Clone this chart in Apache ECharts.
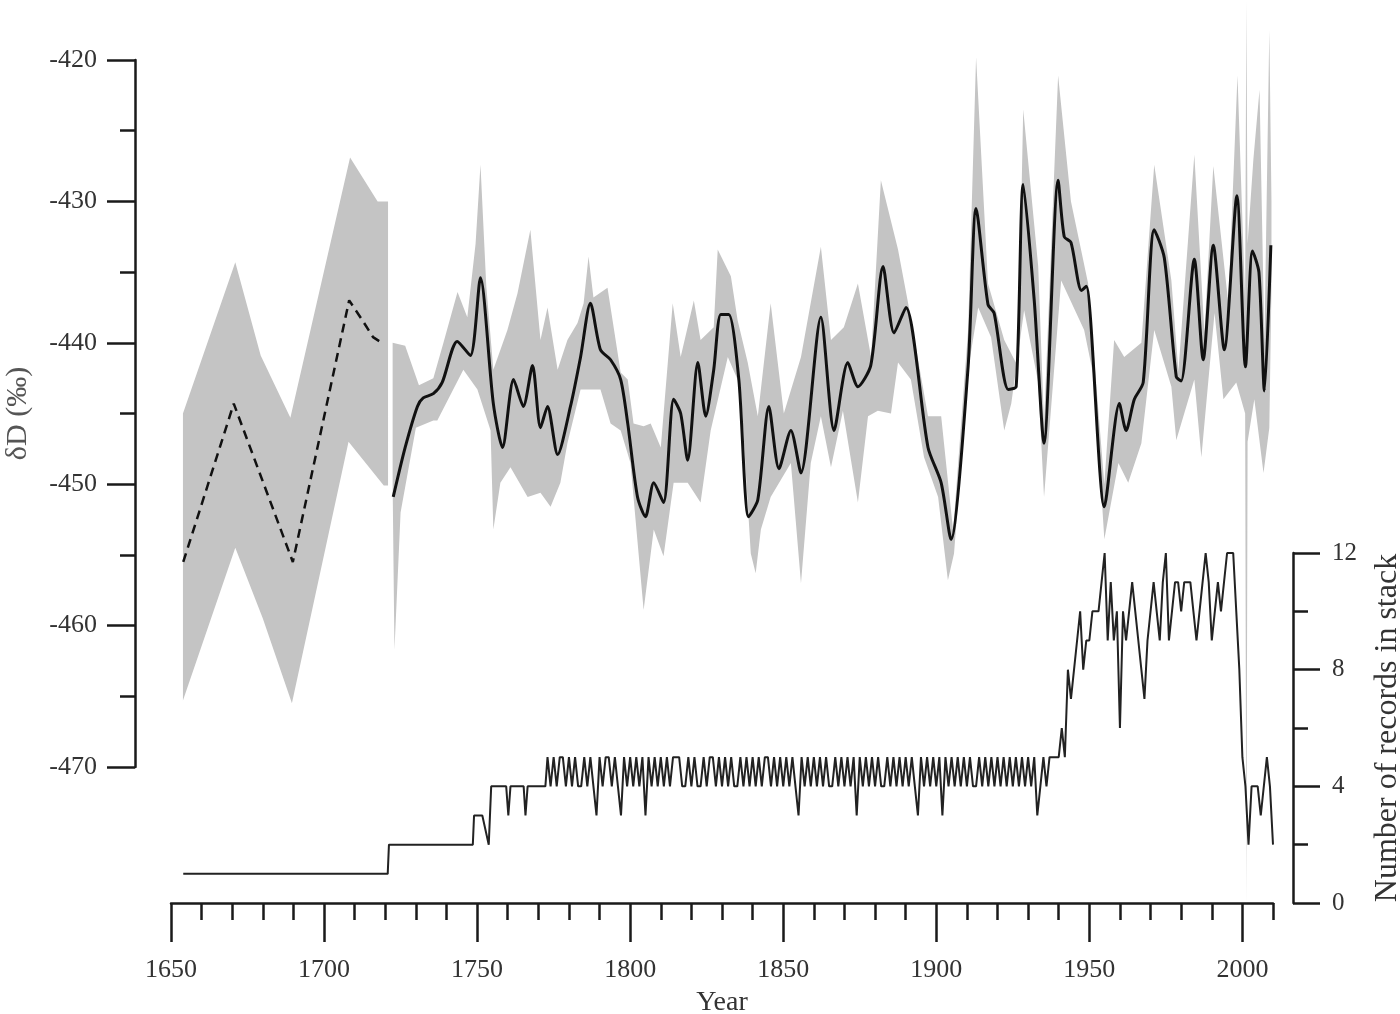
<!DOCTYPE html>
<html>
<head>
<meta charset="utf-8">
<script src="https://cdn.jsdelivr.net/npm/echarts@6/dist/echarts.min.js"></script>
<style>
html, body { margin: 0; padding: 0; background: #fff; }
#container { width: 1400px; height: 1014px; }
</style>
</head>
<body>
<div id="container"></div>
<script>
var dom = document.getElementById('container');
var myChart = echarts.init(dom, null, { renderer: 'canvas' });

// early reconstruction (dashed) and its band
var dashedLine = [[1654, -455.5], [1670.5, -444.3], [1689.8, -455.5], [1708.2, -437.0], [1712.5, -438.4], [1716, -439.6], [1719.6, -440.1]];
var dashedUpper = [[1653.9, -445.0], [1671, -434.3], [1679.3, -440.9], [1689, -445.3], [1708.5, -426.9], [1717.5, -430.0], [1720.9, -430.0]];
var dashedLower = [[1653.9, -465.3], [1671, -454.5], [1680, -459.5], [1689.5, -465.5], [1708, -447.0], [1719.5, -450.1], [1720.9, -450.1]];

// stacked record (solid) and its band
var mainLine = [[1722.6, -450.9], [1726.5, -447.4], [1730.5, -444.5], [1732.4, -443.9], [1735.7, -443.6], [1738.6, -442.8],
  [1743.5, -439.9], [1747.8, -440.9], [1751.1, -435.4], [1755.3, -444.3], [1758.3, -447.4], [1761.9, -442.6], [1765.1, -444.5],
  [1768.1, -441.6], [1770.7, -446.0], [1773, -444.5], [1776.3, -447.9], [1780.5, -444.5], [1783.8, -441.0], [1787, -437.2],
  [1790.3, -440.5], [1793.6, -441.2], [1796.9, -442.6], [1799.2, -445.7], [1802.4, -450.9], [1805, -452.3], [1807.7, -449.9],
  [1810.9, -451.3], [1814.2, -444.0], [1816.5, -445.0], [1818.8, -448.3], [1822.1, -441.4], [1824.7, -445.2], [1827.3, -441.9],
  [1829.6, -438.0], [1832.2, -438.0], [1835.5, -442.6], [1838.7, -452.3], [1841.7, -451.1], [1845.3, -444.5], [1848.6, -448.9],
  [1852.5, -446.2], [1855.8, -449.2], [1862.3, -438.2], [1866.6, -446.2], [1871.1, -441.4], [1874.4, -443.1], [1878.6, -441.6],
  [1882.6, -434.6], [1886.2, -439.3], [1890.1, -437.5], [1897.3, -447.4], [1901.6, -449.9], [1904.8, -453.9], [1910.4, -441.7],
  [1913, -430.5], [1916.9, -437.3], [1918.9, -437.9], [1923.5, -443.3], [1926.1, -443.1], [1928.4, -428.8], [1932, -437.0],
  [1935.2, -447.1], [1939.8, -428.5], [1941.8, -432.5], [1944, -432.9], [1947.4, -436.3], [1949, -436.0], [1954.9, -451.6],
  [1959.8, -444.3], [1962, -446.2], [1964.7, -444.0], [1967.6, -442.8], [1971.2, -432.0], [1974.5, -434.0], [1978.4, -442.4],
  [1980, -442.7], [1984.3, -434.1], [1987.2, -441.2], [1990.5, -433.1], [1994.1, -440.5], [1998.2, -429.6], [2001, -441.7],
  [2003.3, -433.5], [2005.4, -435.0], [2007.2, -443.4], [2009.3, -433.1]];

var mainUpper = [[1722.4, -440.0], [1726.5, -440.2], [1731, -443.0], [1735.7, -442.5], [1739, -440.0], [1743.6, -436.4],
  [1746.8, -438.2], [1749.5, -433.0], [1751.1, -427.4], [1753, -436.0], [1755.3, -441.9], [1759.9, -439.1], [1763.2, -436.5],
  [1767.4, -432.0], [1770.7, -439.8], [1773, -437.5], [1776.3, -441.9], [1779.5, -439.8], [1782.8, -438.6], [1784.8, -437.2],
  [1786.4, -433.9], [1788, -436.8], [1792.6, -436.1], [1796.9, -442.1], [1799.2, -442.6], [1801.1, -445.7], [1804.4, -445.9],
  [1806.7, -445.7], [1810, -447.4], [1813.9, -437.2], [1816.5, -441.0], [1820.8, -437.0], [1823, -439.8], [1827.3, -438.9],
  [1828.6, -433.4], [1832.9, -435.3], [1835.1, -438.4], [1838.4, -441.4], [1841.7, -445.2], [1845.9, -437.2], [1850.2, -445.0],
  [1855.8, -441.0], [1862.3, -433.2], [1865.6, -439.8], [1869.8, -438.9], [1874.4, -435.8], [1878.7, -441.0], [1881.9, -428.5],
  [1887.5, -433.4], [1890.8, -437.2], [1897.3, -445.2], [1901.6, -445.2], [1905.5, -453.3], [1910.4, -439.1], [1913, -419.8],
  [1916.9, -435.8], [1922.2, -439.8], [1926.7, -441.7], [1928.4, -423.5], [1933.3, -434.6], [1935.2, -445.7], [1939.8, -421.1],
  [1944, -430.0], [1949.6, -435.8], [1954.9, -450.0], [1958.1, -439.8], [1961.4, -441.0], [1967, -440.0], [1971.2, -427.4],
  [1976.8, -435.6], [1979.1, -442.0], [1984.3, -426.7], [1987.6, -439.3], [1990.5, -427.5], [1995.4, -437.2], [1998.4, -421.1],
  [2000.9, -437.0], [2001.3, -415.8], [2001.7, -433.0], [2003.6, -427.0], [2005.6, -422.1], [2007.2, -440.0], [2008.8, -417.9],
  [2009.5, -430.0]];

var mainLower = [[1722.4, -450.0], [1723, -461.7], [1725, -452.0], [1730, -446.0], [1735.7, -445.5], [1737, -445.5],
  [1745.5, -441.9], [1750.1, -443.3], [1754.4, -446.2], [1755.3, -453.2], [1757.6, -449.9], [1760.9, -448.8], [1766.5, -450.9],
  [1770.7, -450.6], [1774, -451.6], [1777.2, -449.9], [1779.5, -447.1], [1783.8, -443.3], [1790.3, -443.3], [1793.6, -445.7],
  [1796.9, -446.2], [1800.1, -448.5], [1804.4, -458.9], [1807.7, -453.2], [1810.9, -455.1], [1814.2, -449.9], [1818.8, -449.9],
  [1823, -451.3], [1826.3, -446.2], [1831.9, -441.0], [1836.1, -443.1], [1839.4, -454.9], [1841, -456.3], [1842.7, -453.2],
  [1845.9, -450.9], [1852.5, -448.5], [1855.8, -457.0], [1859, -448.5], [1862.3, -445.2], [1865.6, -448.8], [1869.5, -444.8],
  [1874.4, -451.3], [1877.7, -445.2], [1880.9, -444.8], [1885.2, -445.0], [1887.5, -441.4], [1891.7, -442.6], [1896, -448.1],
  [1900.6, -450.9], [1903.8, -456.8], [1905.8, -454.9], [1910.4, -441.9], [1913.7, -437.5], [1917.9, -439.6], [1922.2, -446.2],
  [1924.5, -444.3], [1928.7, -437.7], [1933.3, -442.8], [1935.2, -450.9], [1940.8, -435.6], [1948.3, -439.1], [1951.6, -442.6],
  [1954.9, -453.9], [1959.5, -448.5], [1962.7, -449.9], [1967, -447.1], [1971.2, -439.1], [1976.8, -443.1], [1978.4, -446.9],
  [1984.3, -442.6], [1986.6, -448.1], [1990.9, -437.9], [1993.8, -444.0], [1998, -442.8], [2000.9, -445.0], [2001.3, -479.8],
  [2001.7, -447.0], [2003.9, -444.0], [2006.9, -449.2], [2008.8, -446.0], [2009.5, -436.0]];

// number of records in stack
var recordsEarly = [[1654, 1], [1720.8, 1], [1721.2, 2], [1748.6, 2], [1749, 3], [1751.7, 3], [1753.8, 2], [1754.6, 4],
  [1759.5, 4], [1760.2, 3], [1760.9, 4], [1765.2, 4], [1765.8, 3], [1766.5, 4], [1772.3, 4]];
var recordsStartYear = 1773;
var recordsAnnual = [
  5, 4, 5, 4, 5, 5, 4,             // 1773-1779
  5, 4, 5, 4, 4, 5, 4, 5, 4, 3,    // 1780s
  5, 4, 5, 5, 4, 5, 4, 3, 5, 4,    // 1790s
  5, 4, 5, 4, 5, 3, 5, 4, 5, 4,    // 1800s
  5, 4, 5, 4, 5, 5, 5, 4, 4, 5,    // 1810s
  4, 5, 4, 4, 5, 4, 5, 5, 4, 5,    // 1820s
  4, 5, 4, 5, 4, 4, 5, 4, 5, 4,    // 1830s
  5, 4, 5, 4, 5, 5, 4, 5, 4, 5,    // 1840s
  4, 5, 4, 5, 4, 3, 5, 4, 5, 4,    // 1850s
  5, 4, 5, 4, 5, 4, 4, 5, 4, 5,    // 1860s
  4, 5, 4, 5, 3, 5, 4, 5, 4, 5,    // 1870s
  4, 5, 4, 4, 5, 4, 5, 4, 5, 4,    // 1880s
  5, 4, 5, 4, 3, 5, 4, 5, 4, 5,    // 1890s
  4, 5, 3, 5, 4, 5, 4, 5, 4, 5,    // 1900s
  4, 5, 4, 4, 5, 4, 5, 4, 5, 4,    // 1910s
  5, 4, 5, 4, 5, 4, 5, 4, 5, 4,    // 1920s
  5, 4, 5, 3, 4, 5, 4, 5, 5, 5,    // 1930s
  5, 6, 5, 8, 7, 8, 9, 10, 8, 9,   // 1940s
  9, 10, 10, 10, 11, 12, 9, 11, 9, 10,   // 1950s
  6, 10, 9, 10, 11, 10, 9, 8, 7, 9,      // 1960s
  10, 11, 10, 9, 11, 12, 9, 10, 11, 11,  // 1970s
  10, 11, 11, 11, 10, 9, 10, 11, 12, 11, // 1980s
  9, 10, 11, 10, 11, 12, 12, 12, 10, 8,  // 1990s
  5, 4, 2, 4, 4, 4, 3, 4, 5, 4, 2        // 2000-2010
];

var majorYears = [1650, 1700, 1750, 1800, 1850, 1900, 1950, 2000];

var records = recordsEarly.concat(recordsAnnual.map(function (v, i) { return [recordsStartYear + i, v]; }));

var serif = "'Liberation Serif', 'Times New Roman', serif";
var axisColor = '#1a1a1a';
var textColor = '#333';
var bandColor = '#c4c4c4';

function bandRenderer(upper, lower) {
  return function (params, api) {
    if (params.dataIndex !== 0) return null;
    var pts = upper.map(function (p) { return api.coord(p); })
      .concat(lower.slice().reverse().map(function (p) { return api.coord(p); }));
    return { type: 'polygon', shape: { points: pts }, style: { fill: bandColor } };
  };
}

function plain(v) { return String(v); }

var option = {
  animation: false,
  backgroundColor: '#fff',
  grid: [
    { left: 171, right: 127, top: 60, height: 707, outerBoundsMode: 'none' },
    { left: 171, right: 127, top: 553, height: 350, outerBoundsMode: 'none' }
  ],
  xAxis: [
    { gridIndex: 0, type: 'value', min: 1650, max: 2010, show: false },
    {
      gridIndex: 1, type: 'value', position: 'bottom', min: 1650, max: 2010, interval: 10, offset: 10,
      axisLine: { show: true, lineStyle: { color: axisColor, width: 2.5 } },
      axisTick: { show: true, length: 17, lineStyle: { color: axisColor, width: 2.5 } },
      axisLabel: { show: false },
      splitLine: { show: false }
    },
    {
      gridIndex: 1, type: 'value', position: 'bottom', min: 1650, max: 2010, offset: 10,
      axisLine: { show: false },
      axisTick: { show: true, customValues: majorYears, length: 29, lineStyle: { color: axisColor, width: 2.5 } },
      axisLabel: { customValues: majorYears, formatter: plain, margin: 44, fontSize: 26, fontFamily: serif, color: textColor },
      splitLine: { show: false },
      name: 'Year', nameLocation: 'middle', nameGap: 76,
      nameTextStyle: { fontSize: 28, fontFamily: serif, color: textColor }
    }
  ],
  yAxis: [
    {
      gridIndex: 0, type: 'value', min: -470, max: -420, interval: 10, position: 'left', offset: 36,
      axisLine: { show: true, lineStyle: { color: axisColor, width: 2.5 } },
      axisTick: { show: true, length: 28, lineStyle: { color: axisColor, width: 2.5 } },
      minorTick: { show: true, splitNumber: 2, length: 15, lineStyle: { color: axisColor, width: 2.5 } },
      axisLabel: { margin: 38, fontSize: 26, fontFamily: serif, color: textColor },
      splitLine: { show: false },
      name: 'δD (‰)', nameLocation: 'middle', nameGap: 102, nameRotate: 90,
      nameTextStyle: { fontSize: 30, fontFamily: serif, color: '#555' }
    },
    {
      gridIndex: 1, type: 'value', min: 0, max: 12, interval: 4, position: 'right', offset: 20,
      axisLine: { show: true, lineStyle: { color: axisColor, width: 2.5 } },
      axisTick: { show: true, length: 27, lineStyle: { color: axisColor, width: 2.5 } },
      minorTick: { show: true, splitNumber: 2, length: 15, lineStyle: { color: axisColor, width: 2.5 } },
      axisLabel: { margin: 39, fontSize: 25, fontFamily: serif, color: textColor },
      splitLine: { show: false },
      name: 'Number of records in stack', nameLocation: 'middle', nameGap: 79, nameRotate: 90,
      nameTextStyle: { fontSize: 32, fontFamily: serif, color: textColor }
    }
  ],
  series: [
    {
      type: 'custom', xAxisIndex: 0, yAxisIndex: 0, clip: false, silent: true,
      renderItem: bandRenderer(dashedUpper, dashedLower), data: dashedUpper, z: 1
    },
    {
      type: 'custom', xAxisIndex: 0, yAxisIndex: 0, clip: false, silent: true,
      renderItem: bandRenderer(mainUpper, mainLower), data: mainUpper, z: 1
    },
    {
      type: 'line', xAxisIndex: 0, yAxisIndex: 0, data: dashedLine, showSymbol: false, z: 3,
      lineStyle: { color: '#111', width: 2.5, type: [9, 6] }
    },
    {
      type: 'line', xAxisIndex: 0, yAxisIndex: 0, data: mainLine, showSymbol: false, smooth: 0.25, z: 3,
      lineStyle: { color: '#111', width: 3 }
    },
    {
      type: 'line', xAxisIndex: 1, yAxisIndex: 1, data: records, showSymbol: false, z: 3,
      lineStyle: { color: '#222', width: 2 }
    }
  ]
};

if (option && typeof option === 'object') {
  myChart.setOption(option);
}

window.addEventListener('resize', myChart.resize);
</script>
</body>
</html>
